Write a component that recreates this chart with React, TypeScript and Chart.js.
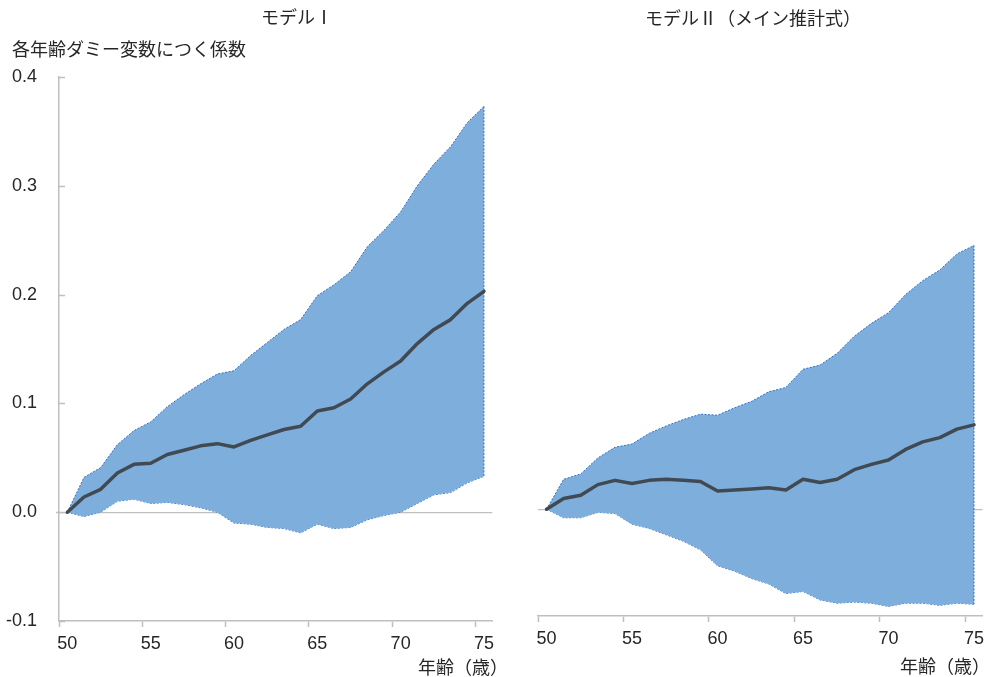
import React, { useEffect, useRef } from "react";
import { Chart, registerables } from "chart.js";

Chart.register(...registerables);

const ages = ["50","51","52","53","54","55","56","57","58","59","60","61","62","63","64","65","66","67","68","69","70","71","72","73","74","75"];
const yTickValues = [-0.1, 0, 0.1, 0.2, 0.3, 0.4];

const model1Mean = [0, 0.014, 0.021, 0.036, 0.044, 0.045, 0.053, 0.057, 0.061, 0.063, 0.060, 0.066, 0.071, 0.076, 0.079, 0.093, 0.096, 0.104, 0.118, 0.129, 0.139, 0.155, 0.168, 0.177, 0.192, 0.203];
const model1Upper = [0, 0.032, 0.041, 0.062, 0.075, 0.083, 0.097, 0.108, 0.118, 0.127, 0.130, 0.144, 0.156, 0.168, 0.177, 0.199, 0.209, 0.221, 0.244, 0.259, 0.276, 0.300, 0.320, 0.336, 0.358, 0.373];
const model1Lower = [0, -0.004, 0.000, 0.010, 0.012, 0.008, 0.009, 0.007, 0.004, 0.000, -0.010, -0.011, -0.014, -0.015, -0.019, -0.011, -0.015, -0.014, -0.007, -0.003, 0.000, 0.008, 0.016, 0.018, 0.027, 0.033];

const model2Mean = [0, 0.010, 0.013, 0.023, 0.027, 0.024, 0.027, 0.028, 0.027, 0.026, 0.017, 0.018, 0.019, 0.020, 0.018, 0.028, 0.025, 0.028, 0.037, 0.042, 0.046, 0.056, 0.063, 0.067, 0.075, 0.079];
const model2Upper = [0, 0.028, 0.033, 0.048, 0.058, 0.061, 0.071, 0.078, 0.084, 0.089, 0.088, 0.095, 0.101, 0.110, 0.114, 0.131, 0.135, 0.146, 0.162, 0.174, 0.184, 0.201, 0.214, 0.224, 0.239, 0.247];
const model2Lower = [0, -0.008, -0.008, -0.003, -0.004, -0.014, -0.018, -0.024, -0.030, -0.038, -0.053, -0.058, -0.065, -0.070, -0.079, -0.077, -0.085, -0.088, -0.087, -0.088, -0.091, -0.088, -0.088, -0.090, -0.088, -0.089];

const FILL = "rgba(126,175,220,1)";
const EDGE = "#2f6fc4";
const MEAN = "#414a52";
const AXIS = "#bfbfbf";
const TEXT = "#262626";
const NUM_FONT = "'Liberation Sans', Arial, sans-serif";
const JP_FONT = "'Noto Sans CJK JP', sans-serif";

type PanelProps = {
  mean: number[];
  upper: number[];
  lower: number[];
  showY: boolean;
  left: number;
  width: number;
  plotLeft: number;
  plotRight: number;
  plotTop: number;
  plotBottom: number;
};

const inwardTicks = {
  id: "inwardTicks",
  afterDraw(chart: any, _args: any, opts: any) {
    if (!opts || !opts.enabled) return;
    const y = chart.scales.y;
    const ctx = chart.ctx;
    const x0 = chart.chartArea.left;
    ctx.save();
    ctx.strokeStyle = AXIS;
    ctx.lineWidth = 1.5;
    yTickValues.forEach((v) => {
      const py = Math.round(y.getPixelForValue(v)) + 0.5;
      ctx.beginPath();
      ctx.moveTo(v === 0 ? x0 - 3 : x0, py);
      ctx.lineTo(x0 + 6, py);
      ctx.stroke();
    });
    ctx.restore();
  },
};

function Panel(p: PanelProps) {
  const ref = useRef<HTMLCanvasElement>(null);
  useEffect(() => {
    if (!ref.current) return;
    const last = ages.length - 1;
    const chart = new Chart(ref.current, {
      type: "line",
      data: {
        labels: ages,
        datasets: [
          {
            data: p.upper,
            borderColor: EDGE,
            borderWidth: 1,
            borderDash: [2, 1.5],
            backgroundColor: FILL,
            fill: "+1",
            pointRadius: 0,
            order: 2,
          },
          {
            data: p.lower,
            borderColor: EDGE,
            borderWidth: 1,
            borderDash: [2, 1.5],
            backgroundColor: FILL,
            fill: false,
            pointRadius: 0,
            order: 2,
          },
          {
            data: [
              { x: ages[last], y: p.upper[last] },
              { x: ages[last], y: p.lower[last] },
            ] as any,
            borderColor: EDGE,
            borderWidth: 1,
            borderDash: [2, 1.5],
            fill: false,
            pointRadius: 0,
            order: 1,
          },
          {
            data: p.mean,
            borderColor: MEAN,
            borderWidth: 3.5,
            borderJoinStyle: "round",
            borderCapStyle: "round",
            fill: false,
            pointRadius: 0,
            order: 0,
          },
        ],
      },
      options: {
        responsive: false,
        animation: false,
        layout: {
          padding: {
            top: p.plotTop,
            right: p.width - p.plotRight,
            left: 0,
            bottom: 0,
          },
        },
        plugins: {
          legend: { display: false },
          tooltip: { enabled: false },
          inwardTicks: { enabled: p.showY },
        } as any,
        scales: {
          x: {
            type: "category",
            offset: true,
            grid: {
              offset: true,
              drawOnChartArea: false,
              drawTicks: true,
              tickLength: 6,
              tickWidth: 1.5,
              tickColor: (ctx: any) => (ctx.index % 5 === 0 && ctx.index < ages.length ? AXIS : "rgba(0,0,0,0)"),
            },
            border: { display: true, color: AXIS, width: 1.5 },
            ticks: {
              autoSkip: false,
              maxRotation: 0,
              padding: 6,
              color: TEXT,
              font: { family: NUM_FONT, size: 18 },
              callback: (_v: any, i: number) => (i % 5 === 0 ? ages[i] : ""),
            },
            afterFit: (s: any) => {
              s.height = 677 - p.plotBottom;
            },
          },
          y: {
            type: "linear",
            min: -0.1,
            max: 0.4,
            afterBuildTicks: (s: any) => {
              s.ticks = yTickValues.map((v) => ({ value: v }));
            },
            grid: {
              drawTicks: false,
              lineWidth: 1.2,
              color: (ctx: any) => (ctx.tick && Math.abs(ctx.tick.value) < 1e-9 ? AXIS : "rgba(0,0,0,0)"),
            },
            border: { display: p.showY, color: AXIS, width: 1.5 },
            ticks: {
              display: p.showY,
              padding: 22,
              color: TEXT,
              font: { family: NUM_FONT, size: 18 },
              callback: (v: any) => Number(v).toFixed(1),
            },
            afterFit: (s: any) => {
              s.width = p.plotLeft - p.left;
            },
          },
        },
      },
      plugins: [inwardTicks],
    } as any);
    return () => chart.destroy();
  }, []);
  return (
    <canvas
      ref={ref}
      width={p.width}
      height={677}
      style={{ position: "absolute", left: p.left, top: 0, width: p.width, height: 677 }}
    />
  );
}

const txt = (left: number, top: number): React.CSSProperties => ({
  position: "absolute",
  left,
  top,
  fontFamily: JP_FONT,
  fontSize: 18,
  lineHeight: "18px",
  color: TEXT,
  whiteSpace: "nowrap",
});

export default function App() {
  return (
    <div style={{ position: "absolute", left: 0, top: 0, width: 990, height: 677, background: "#fff", overflow: "hidden" }}>
      <Panel mean={model1Mean} upper={model1Upper} lower={model1Lower} showY={true}
        left={0} width={500} plotLeft={59} plotRight={498} plotTop={77} plotBottom={621} />
      <Panel mean={model2Mean} upper={model2Upper} lower={model2Lower} showY={false}
        left={500} width={490} plotLeft={538} plotRight={983} plotTop={82} plotBottom={616} />
      <div style={txt(261, 7)}>モデルⅠ</div>
      <div style={txt(12, 39)}>各年齢ダミー変数につく係数</div>
      <div style={txt(645, 8)}>モデルⅡ（メイン推計式）</div>
      <div style={txt(418, 657)}>年齢（歳）</div>
      <div style={txt(900, 656)}>年齢（歳）</div>
    </div>
  );
}
